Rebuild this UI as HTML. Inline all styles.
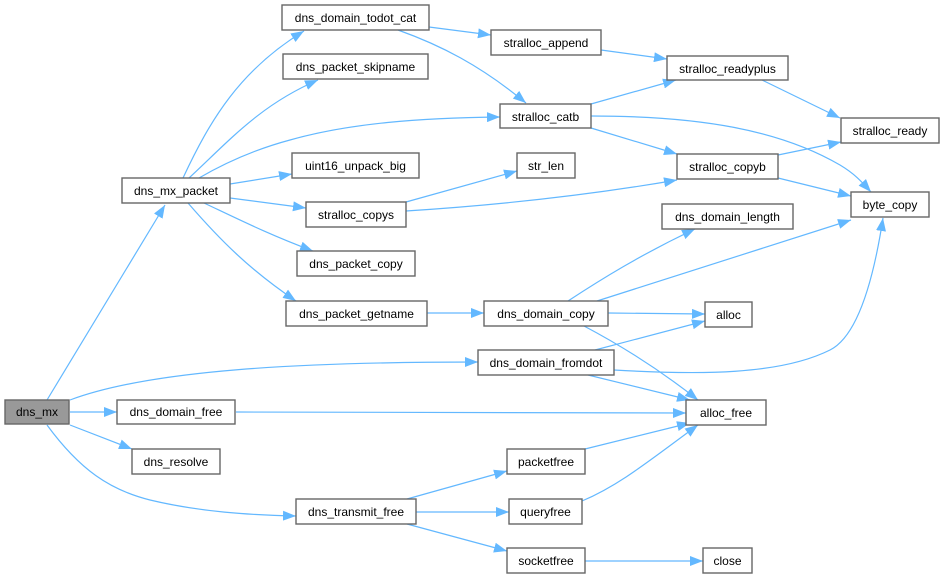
<!DOCTYPE html>
<html><head><meta charset="utf-8"><style>
html,body{margin:0;padding:0;background:#fff}
svg{display:block}
text{font-family:"Liberation Sans",Arial,sans-serif;font-size:12px;fill:#000;text-anchor:middle}
.n{fill:#fff;stroke:#666;stroke-width:1.4}
.e{fill:none;stroke:#63b8ff;stroke-width:1.2}
</style></head><body>
<svg width="945" height="579" viewBox="0 0 945 579" xmlns="http://www.w3.org/2000/svg">
<defs><marker id="a" viewBox="0 0 13 10" refX="13" refY="5" markerWidth="13" markerHeight="10" markerUnits="userSpaceOnUse" orient="auto"><path d="M0,0L13,5L0,10z" fill="#63b8ff"/></marker></defs>
<g class="e" marker-end="url(#a)">
<path d="M47,400 L165,205"/>
<path d="M70,400 C150,370 300,362 478,362"/>
<path d="M70,412 L117,412"/>
<path d="M70,425 L132,449"/>
<path d="M47,425 C80,470 110,490 150,500 C200,512 250,515 296,516"/>
<path d="M183,178 C210,120 240,70 304,31"/>
<path d="M189,178 C230,140 260,105 318,80"/>
<path d="M199,178 C230,160 260,148 290,140 C350,123 420,118 500,117"/>
<path d="M230,184 L292,174"/>
<path d="M230,198 L306,208"/>
<path d="M204,203 C240,220 270,235 313,251"/>
<path d="M188,203 C220,240 250,270 296,301"/>
<path d="M429,27 L491,35"/>
<path d="M398,30 C440,45 480,65 526,103"/>
<path d="M601,50 L667,59"/>
<path d="M591,104 L676,80"/>
<path d="M591,116 C700,116 780,130 840,165 C855,174 862,182 871,192"/>
<path d="M591,128 L677,154"/>
<path d="M762,80 L840,118"/>
<path d="M778,155 L841,142"/>
<path d="M778,178 L851,196"/>
<path d="M406,202 L517,171"/>
<path d="M406,211 C500,205 590,195 677,180"/>
<path d="M427,313 L484,313"/>
<path d="M568,301 C600,280 640,255 695,229"/>
<path d="M597,301 L851,220"/>
<path d="M608,313 L705,314"/>
<path d="M584,326 C620,345 660,370 698,400"/>
<path d="M595,350 L705,321"/>
<path d="M614,370 C700,375 780,375 830,350 C860,335 875,270 883,218"/>
<path d="M588,375 L690,400"/>
<path d="M236,412 L686,413"/>
<path d="M585,449 L690,423"/>
<path d="M582,501 C620,485 650,460 698,425"/>
<path d="M407,499 L507,471"/>
<path d="M416,512 L509,512"/>
<path d="M407,524 L507,551"/>
<path d="M585,561 L703,561"/>
</g>
<rect x="5" y="400" width="64" height="24" fill="#999" stroke="#666" stroke-width="1.4"/><text x="37" y="416">dns_mx</text>
<rect class="n" x="122" y="178" width="108" height="25"/><text x="176" y="195">dns_mx_packet</text>
<rect class="n" x="282" y="5" width="147" height="25"/><text x="355.5" y="22">dns_domain_todot_cat</text>
<rect class="n" x="283" y="54" width="145" height="25"/><text x="355.5" y="71">dns_packet_skipname</text>
<rect class="n" x="292" y="153" width="127" height="25"/><text x="355.5" y="170">uint16_unpack_big</text>
<rect class="n" x="306" y="202" width="100" height="25"/><text x="356" y="219">stralloc_copys</text>
<rect class="n" x="297" y="251" width="118" height="25"/><text x="356" y="268">dns_packet_copy</text>
<rect class="n" x="286" y="301" width="141" height="25"/><text x="356.5" y="318">dns_packet_getname</text>
<rect class="n" x="491" y="30" width="110" height="25"/><text x="546" y="47">stralloc_append</text>
<rect class="n" x="667" y="56" width="121" height="24"/><text x="727.5" y="73">stralloc_readyplus</text>
<rect class="n" x="500" y="104" width="91" height="24"/><text x="545.5" y="121">stralloc_catb</text>
<rect class="n" x="517" y="153" width="58" height="25"/><text x="546" y="170">str_len</text>
<rect class="n" x="677" y="154" width="101" height="25"/><text x="727.5" y="171">stralloc_copyb</text>
<rect class="n" x="841" y="118" width="98" height="25"/><text x="890" y="135">stralloc_ready</text>
<rect class="n" x="851" y="192" width="78" height="25"/><text x="890" y="209">byte_copy</text>
<rect class="n" x="662" y="204" width="131" height="25"/><text x="727.5" y="221">dns_domain_length</text>
<rect class="n" x="484" y="301" width="124" height="25"/><text x="546" y="318">dns_domain_copy</text>
<rect class="n" x="705" y="302" width="47" height="25"/><text x="728.5" y="319">alloc</text>
<rect class="n" x="478" y="350" width="136" height="25"/><text x="546" y="367">dns_domain_fromdot</text>
<rect class="n" x="117" y="400" width="118" height="24"/><text x="176" y="416">dns_domain_free</text>
<rect class="n" x="686" y="400" width="80" height="25"/><text x="726" y="417">alloc_free</text>
<rect class="n" x="132" y="449" width="88" height="25"/><text x="176" y="466">dns_resolve</text>
<rect class="n" x="507" y="449" width="78" height="25"/><text x="546" y="466">packetfree</text>
<rect class="n" x="296" y="499" width="120" height="25"/><text x="356" y="516">dns_transmit_free</text>
<rect class="n" x="509" y="499" width="73" height="25"/><text x="545.5" y="516">queryfree</text>
<rect class="n" x="507" y="548" width="78" height="25"/><text x="546" y="565">socketfree</text>
<rect class="n" x="703" y="548" width="49" height="25"/><text x="727.5" y="565">close</text>
</svg>
</body></html>
